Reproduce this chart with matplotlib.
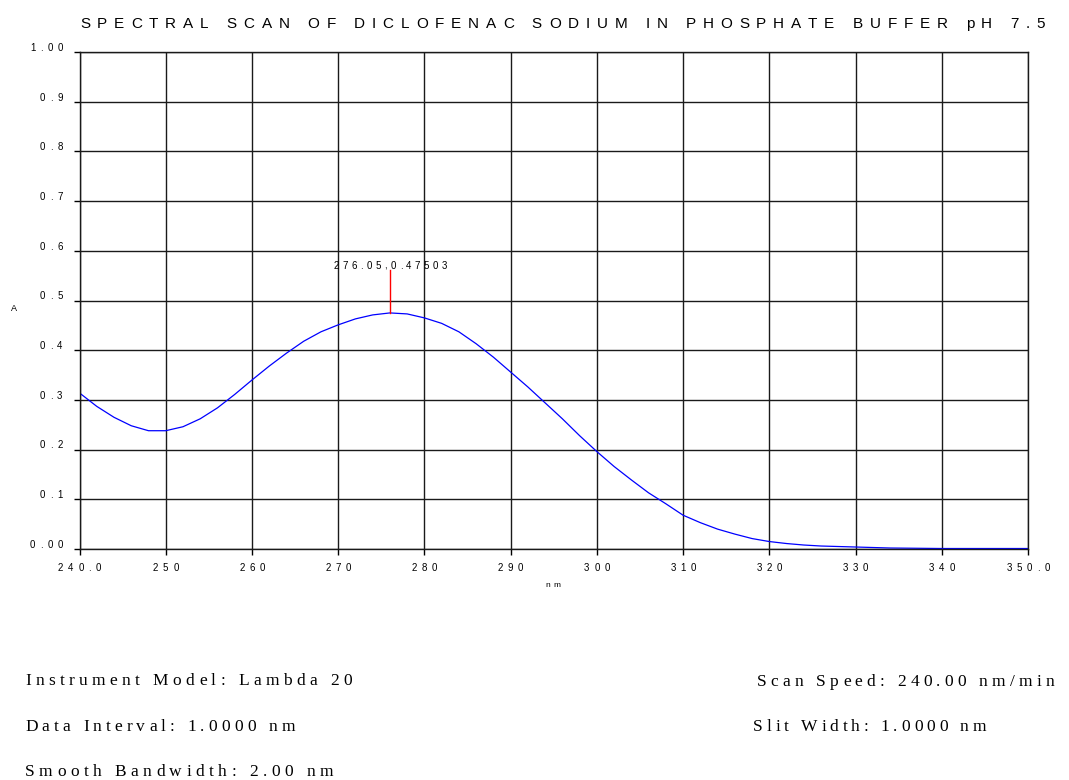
import matplotlib
matplotlib.use("Agg")
import matplotlib.pyplot as plt
from matplotlib.font_manager import FontProperties, findfont, get_font
from matplotlib.transforms import offset_copy

# Absorbance spectrum, diclofenac sodium in phosphate buffer pH 7.5
wavelength = [240, 242, 244, 246, 248, 250, 252, 254, 256, 258,
              260, 262, 264, 266, 268, 270, 272, 274, 276, 278,
              280, 282, 284, 286, 288, 290, 292, 294, 296, 298,
              300, 302, 304, 306, 308, 310, 312, 314, 316, 318,
              320, 322, 324, 326, 328, 330, 334, 340, 345, 350]
absorbance = [0.314, 0.287, 0.265, 0.248, 0.238, 0.238, 0.246, 0.262, 0.284, 0.311,
              0.340, 0.368, 0.394, 0.418, 0.437, 0.451, 0.463, 0.471, 0.475, 0.473,
              0.465, 0.454, 0.437, 0.413, 0.386, 0.356, 0.326, 0.294, 0.262, 0.228,
              0.196, 0.166, 0.139, 0.113, 0.091, 0.068, 0.053, 0.040, 0.030, 0.021,
              0.015, 0.011, 0.008, 0.006, 0.005, 0.004, 0.002, 0.001, 0.001, 0.001]

peak_nm = 276.05
peak_a = 0.47503

x_ticks = [240, 250, 260, 270, 280, 290, 300, 310, 320, 330, 340, 350]
x_labels = ["240.0", "250", "260", "270", "280", "290", "300", "310", "320", "330", "340", "350.0"]
y_ticks = [0.0, 0.1, 0.2, 0.3, 0.4, 0.5, 0.6, 0.7, 0.8, 0.9, 1.0]
y_labels = ["0.00", "0.1", "0.2", "0.3", "0.4", "0.5", "0.6", "0.7", "0.8", "0.9", "1.00"]

title = "SPECTRAL SCAN OF DICLOFENAC SODIUM IN PHOSPHATE BUFFER pH 7.5"
info_left = ["Instrument Model: Lambda 20", "Data Interval: 1.0000 nm", "Smooth Bandwidth: 2.00 nm"]
info_right = ["Scan Speed: 240.00 nm/min", "Slit Width: 1.0000 nm"]

W, H = 1069, 780
fig = plt.figure(figsize=(W / 100, H / 100), dpi=100)
ax = fig.add_axes([79.5 / W, 231 / H, 948.5 / W, 497 / H])

sans = FontProperties(family="Liberation Sans", size=7)
serif = FontProperties(family="Liberation Serif", size=12.5)
title_font = FontProperties(family="Liberation Sans", size=11)


def advances(s, prop):
    font = get_font(findfont(prop))
    font.set_size(prop.get_size_in_points(), 72)
    return [font.load_char(ord(c)).linearHoriAdvance / 65536 for c in s]


def tracked(x, y, s, transform, prop, track=0.0, width=None, ha="left", dx=0.0, dy=0.0, **kw):
    # draw text one glyph at a time with extra letter spacing (points)
    adv = advances(s, prop)
    if width is not None:
        track = (width - sum(adv)) / (len(s) - 1)
    total = sum(adv) + track * (len(s) - 1)
    off = dx - {"left": 0.0, "center": total / 2, "right": total}[ha]
    for c, a in zip(s, adv):
        if c != " ":
            tr = offset_copy(transform, fig=fig, x=off, y=dy, units="points")
            fig.text(x, y, c, transform=tr, fontproperties=prop, ha="left", va="baseline", **kw)
        off += a + track


def px(x, y):
    return x / W, 1 - y / H


# spectrum and peak pick
ax.plot(wavelength, absorbance, color="#0000ff", lw=0.9)
ax.plot([peak_nm, peak_nm], [peak_a, peak_a + 0.086], color="#ff0000", lw=1)

ax.set_xlim(240, 350)
ax.set_ylim(0, 1)
ax.set_xticks(x_ticks)
ax.set_yticks(y_ticks)
ax.tick_params(length=4.3, width=1, color="black", labelbottom=False, labelleft=False)
ax.grid(True, color="#1a1a1a", lw=1)
for sp in ax.spines.values():
    sp.set_color("#1a1a1a")
    sp.set_linewidth(1)

# tick labels
for v, lab in zip(y_ticks, y_labels):
    tracked(0, v, lab, ax.get_yaxis_transform(), sans, track=3.3, ha="right", dx=-12.2, dy=0.8)
for v, lab in zip(x_ticks, x_labels):
    tracked(v, 0, lab, ax.get_xaxis_transform(), sans, track=3.4, ha="center", dy=-15.8)

tracked(peak_nm, peak_a + 0.086, f"{peak_nm:.2f},{peak_a:.5f}", ax.transData,
        sans, width=82, ha="center", dy=1.0)

# axis titles
fig.text(*px(14, 311), "A", fontproperties=FontProperties(family="Liberation Sans", size=6.5),
         ha="center", va="baseline")
tracked(*px(553, 587), "nm", fig.transFigure, FontProperties(family="Liberation Sans", size=6),
        track=2.0, ha="center")

tracked(*px(80, 28), title, fig.transFigure, title_font, width=(1045 - 80) * 0.72)

# instrument settings
left_spans = [(25, 352), (25, 295), (25, 333)]
for (x0, x1), yb, s in zip(left_spans, [685, 731, 776], info_left):
    tracked(*px(x0, yb), s, fig.transFigure, serif, width=(x1 - x0) * 0.72)
right_spans = [(757, 1054), (753, 986)]
for (x0, x1), yb, s in zip(right_spans, [686, 731], info_right):
    tracked(*px(x0, yb), s, fig.transFigure, serif, width=(x1 - x0) * 0.72)

fig.savefig("out.png", dpi=100)
